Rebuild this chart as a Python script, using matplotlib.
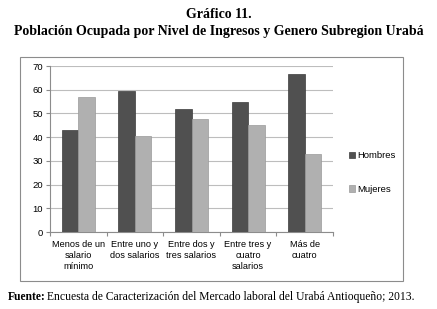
import numpy as np
import matplotlib
matplotlib.use("Agg")
import matplotlib.pyplot as plt
from matplotlib.patches import Rectangle

# datos
categorias = ["Menos de un\nsalario\nmínimo", "Entre uno y\ndos salarios",
              "Entre dos y\ntres salarios", "Entre tres y\ncuatro\nsalarios",
              "Más de\ncuatro"]
hombres = [43, 59.5, 52, 55, 66.5]
mujeres = [57, 40.5, 47.5, 45, 33]

fig = plt.figure(figsize=(4.37, 3.09), dpi=100)

# marco del gráfico
fig.patches.append(Rectangle((20 / 437, 1 - 281 / 309), 383 / 437, 224 / 309,
                             transform=fig.transFigure, fill=False,
                             edgecolor="#8c8c8c", linewidth=0.8))

ax = fig.add_axes([50 / 437, 1 - 232 / 309, 283 / 437, 166 / 309])

x = np.arange(len(categorias))
w = 0.29
ax.bar(x - w / 2, hombres, w, color="#505050", edgecolor="#3c3c3c",
       linewidth=0.5, label="Hombres", zorder=3)
ax.bar(x + w / 2, mujeres, w, color="#b0b0b0", edgecolor="#9a9a9a",
       linewidth=0.5, label="Mujeres", zorder=3)

ax.set_xlim(-0.5, 4.5)
ax.set_ylim(0, 70)
ax.set_yticks(range(0, 71, 10))
ax.yaxis.grid(True, color="#bdbdbd", linewidth=0.8, zorder=0)
ax.set_xticks(np.arange(-0.5, 5, 1))
ax.set_xticklabels([])
ax.tick_params(axis="x", length=3, color="#8c8c8c", width=0.8)
ax.tick_params(axis="y", length=3, color="#8c8c8c", width=0.8,
               labelsize=6.8, pad=2)
for t in ax.get_yticklabels():
    t.set_fontfamily("Liberation Sans")
for i, c in enumerate(categorias):
    ax.text(i, -3.5, c, ha="center", va="top", fontsize=6.6,
            family="Liberation Sans", linespacing=1.25)

for s in ["top", "right"]:
    ax.spines[s].set_visible(False)
for s in ["left", "bottom"]:
    ax.spines[s].set_color("#8c8c8c")
    ax.spines[s].set_linewidth(0.8)

fig.legend(loc="upper left", bbox_to_anchor=(340 / 437, 1 - 143 / 309),
           frameon=False, handlelength=0.7, handleheight=0.7,
           handletextpad=0.2, labelspacing=2.6,
           prop={"family": "Liberation Sans", "size": 6.8})

fig.text(0.5, 1 - 14 / 309, "Gráfico 11.", ha="center", va="center",
         fontsize=10, fontweight="bold", family="Liberation Serif")
fig.text(0.5, 1 - 32 / 309,
         "Población Ocupada por Nivel de Ingresos y Genero Subregion Urabá",
         ha="center", va="center", fontsize=10, fontweight="bold",
         family="Liberation Serif")
fig.text(8 / 437, 1 - 297 / 309, "Fuente:", ha="left", va="center",
         fontsize=8.4, fontweight="bold", family="Liberation Serif")
fig.text(47 / 437, 1 - 297 / 309,
         "Encuesta de Caracterización del Mercado laboral del Urabá Antioqueño; 2013.",
         ha="left", va="center", fontsize=8.4, family="Liberation Serif")

fig.savefig("out.png", dpi=100)
